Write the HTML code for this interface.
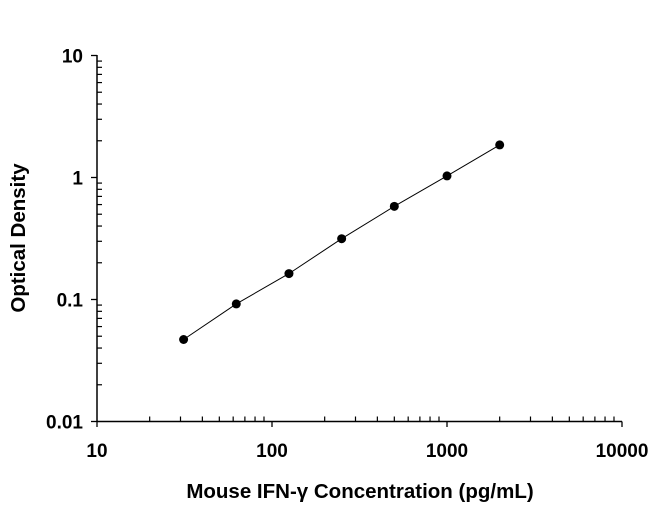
<!DOCTYPE html><html><head><style>body{margin:0;background:#fff}svg{display:block}text{font-family:"Liberation Sans",sans-serif;font-weight:bold;fill:#000}</style></head><body>
<svg id="s" width="650" height="505" xmlns="http://www.w3.org/2000/svg"></svg>
<script>
var s=document.getElementById('s'),h='';
var X=function(v){return 97+175*(Math.log10(v)-1)};
var Y=function(v){return 421.5-122*(Math.log10(v)+2)};
h+='<line x1="97" y1="55" x2="97" y2="421.5" stroke="#000" stroke-width="1.5"/>';
h+='<line x1="97" y1="421.5" x2="622" y2="421.5" stroke="#000" stroke-width="1.5"/>';
for(var d=-2;d<=1;d++){var y=Y(Math.pow(10,d));h+='<line x1="91" x2="97" y1="'+y+'" y2="'+y+'" stroke="#000" stroke-width="1.3"/>';
h+='<text x="83" y="'+(y+7)+'" text-anchor="end" font-size="19">'+['0.01','0.1','1','10'][d+2]+'</text>';
if(d<1)for(var k=2;k<10;k++){var yy=Y(k*Math.pow(10,d));h+='<line x1="97" x2="102" y1="'+yy+'" y2="'+yy+'" stroke="#000" stroke-width="1.2"/>';}}
for(var d=1;d<=4;d++){var x=X(Math.pow(10,d));h+='<line x1="'+x+'" x2="'+x+'" y1="421.5" y2="427" stroke="#000" stroke-width="1.3"/>';
h+='<text x="'+x+'" y="457" text-anchor="middle" font-size="19">'+Math.pow(10,d)+'</text>';
if(d<4)for(var k=2;k<10;k++){var xx=X(k*Math.pow(10,d));h+='<line x1="'+xx+'" x2="'+xx+'" y1="416.5" y2="421.5" stroke="#000" stroke-width="1.2"/>';}}
var p=[[31.25,0.047],[62.5,0.092],[125,0.163],[250,0.315],[500,0.58],[1000,1.03],[2000,1.85]];
h+='<polyline fill="none" stroke="#000" stroke-width="1" points="'+p.map(function(q){return X(q[0])+','+Y(q[1])}).join(' ')+'"/>';
p.forEach(function(q){h+='<circle cx="'+X(q[0])+'" cy="'+Y(q[1])+'" r="4.5" fill="#000"/>'});
h+='<text x="360" y="498" text-anchor="middle" font-size="20.5">Mouse IFN-γ Concentration (pg/mL)</text>';
h+='<text transform="translate(25,238) rotate(-90)" text-anchor="middle" font-size="20.5">Optical Density</text>';
s.innerHTML=h;
</script></body></html>
